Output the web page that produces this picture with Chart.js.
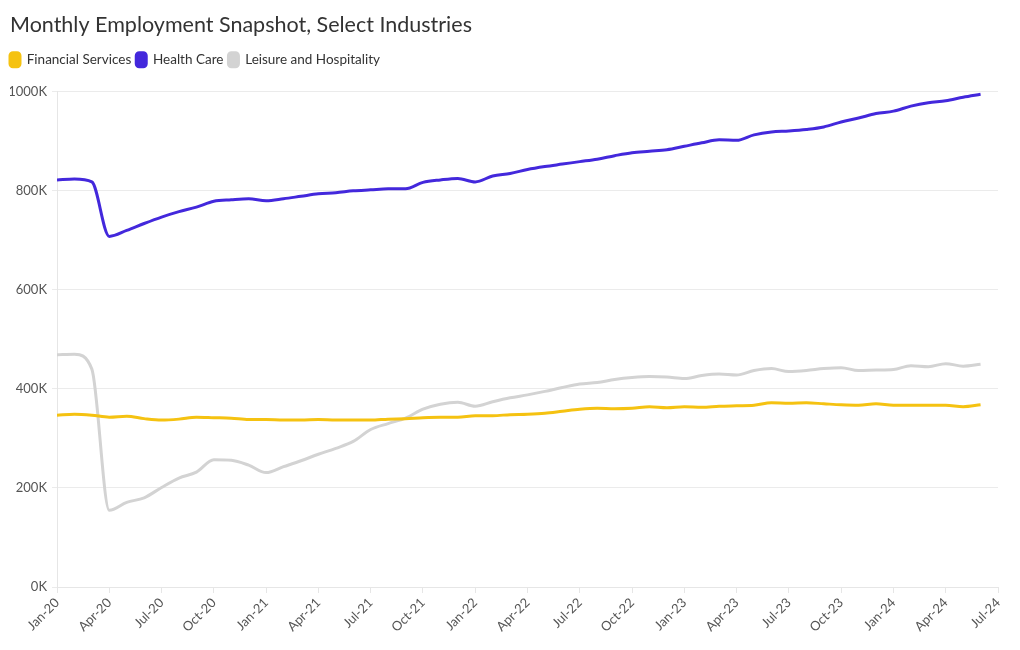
<!DOCTYPE html>
<html>
<head>
<meta charset="utf-8">
<script src="https://cdn.jsdelivr.net/npm/chart.js@4"></script>
<style>
  html, body { margin: 0; padding: 0; background: #ffffff; }
  #wrap { width: 1020px; height: 650px; position: relative; }
</style>
</head>
<body>
<div id="wrap"><canvas id="c" width="1020" height="650"></canvas></div>
<script>
const monthNames = ['Jan','Feb','Mar','Apr','May','Jun','Jul','Aug','Sep','Oct','Nov','Dec'];
const startYear = 2020;
// 54 monthly points: Jan-20 .. Jun-24 (values in thousands)
const financialServices = [
  347, 349, 347, 343, 345, 340, 337, 339, 343, 342, 341, 338,
  338, 337, 337, 338, 337, 337, 337, 339, 340, 342, 343, 343,
  346, 346, 348, 349, 351, 355, 359, 361, 360, 361, 364, 362,
  364, 363, 365, 366, 367, 372, 371, 372, 370, 368, 367, 370,
  367, 367, 367, 367, 364, 368
];
const healthCare = [
  822, 824, 818, 708, 720, 734, 747, 758, 767, 779, 782, 784,
  780, 784, 789, 794, 796, 800, 802, 804, 804, 817, 822, 825,
  818, 830, 835, 843, 849, 854, 859, 864, 871, 877, 880, 883,
  890, 897, 903, 902, 913, 919, 921, 924, 929, 939, 947, 956,
  961, 971, 978, 982, 989, 995
];
const leisureHospitality = [
  469, 470, 440, 155, 171, 180, 201, 220, 232, 257, 256, 246,
  231, 243, 255, 268, 280, 294, 318, 330, 341, 359, 369, 373,
  365, 374, 382, 388, 395, 403, 410, 413, 419, 423, 425, 424,
  421, 427, 430, 428, 437, 441, 435, 437, 441, 443, 437, 438,
  439, 447, 445, 451, 446, 450
];
const seriesNames = ['Financial Services', 'Health Care', 'Leisure and Hospitality'];
const seriesColors = ['#F5C211', '#4328DC', '#D3D3D3'];
const yTicks = [0, 200, 400, 600, 800, 1000];

function monthLabel(i) {
  const y = startYear + Math.floor(i / 12);
  return monthNames[i % 12] + '-' + String(y).slice(2);
}
function toPoints(arr) { return arr.map((v, i) => ({ x: i, y: v * 1000 })); }

const FONT = 'Lato, "Source Sans Pro", "Open Sans", sans-serif';
Chart.defaults.font.family = FONT;

const legendTweak = {
  id: 'legendTweak',
  beforeInit(chart) {
    const origFit = chart.legend.fit;
    chart.legend.fit = function () {
      origFit.bind(chart.legend)();
      this.height += 15;
    };
  },
  afterLayout(chart) {
    chart.legend.left = 5;
  }
};

const allSeries = [financialServices, healthCare, leisureHospitality];
new Chart(document.getElementById('c'), {
  type: 'line',
  plugins: [legendTweak],
  data: {
    datasets: allSeries.map((arr, k) => ({
      label: seriesNames[k],
      data: toPoints(arr),
      borderColor: seriesColors[k],
      backgroundColor: seriesColors[k],
      borderWidth: 3,
      pointRadius: 0,
      pointHoverRadius: 0,
      cubicInterpolationMode: 'monotone',
      fill: false
    }))
  },
  options: {
    responsive: false,
    animation: false,
    layout: { padding: { left: 10, right: 22, top: 6, bottom: 0 } },
    plugins: {
      title: {
        display: true,
        text: 'Monthly Employment Snapshot, Select Industries',
        align: 'start',
        color: '#333333',
        font: { family: FONT, size: 21.5, weight: 'normal' },
        padding: { top: 6, bottom: 10 }
      },
      legend: {
        display: true,
        align: 'start',
        labels: {
          color: '#333333',
          font: { family: FONT, size: 13.5 },
          boxWidth: 10,
          boxHeight: 14,
          padding: 5,
          useBorderRadius: true,
          borderRadius: 3
        }
      },
      tooltip: { enabled: false }
    },
    scales: {
      x: {
        type: 'linear',
        min: 0,
        max: 54,
        afterFit: (s) => { s.height = 63; },
        afterBuildTicks: (s) => {
          const t = [];
          for (let i = 0; i <= 54; i += 3) t.push({ value: i });
          s.ticks = t;
        },
        ticks: {
          callback: (v) => monthLabel(v),
          color: '#555555',
          font: { family: FONT, size: 13 },
          minRotation: 45,
          maxRotation: 45,
          autoSkip: false,
          padding: 2
        },
        grid: {
          display: true,
          drawOnChartArea: false,
          drawTicks: true,
          tickLength: 6,
          color: '#e6e6e6'
        },
        border: { display: true, color: '#e6e6e6' }
      },
      y: {
        min: 0,
        max: 1000000,
        afterFit: (s) => { s.width = 47; },
        afterBuildTicks: (s) => { s.ticks = yTicks.map(v => ({ value: v * 1000 })); },
        ticks: {
          callback: (v) => (v / 1000) + 'K',
          color: '#555555',
          font: { family: FONT, size: 13 },
          padding: 5
        },
        grid: {
          color: '#ebebeb',
          tickLength: 5
        },
        border: { display: true, color: '#e6e6e6' }
      }
    }
  }
});
</script>
</body>
</html>
